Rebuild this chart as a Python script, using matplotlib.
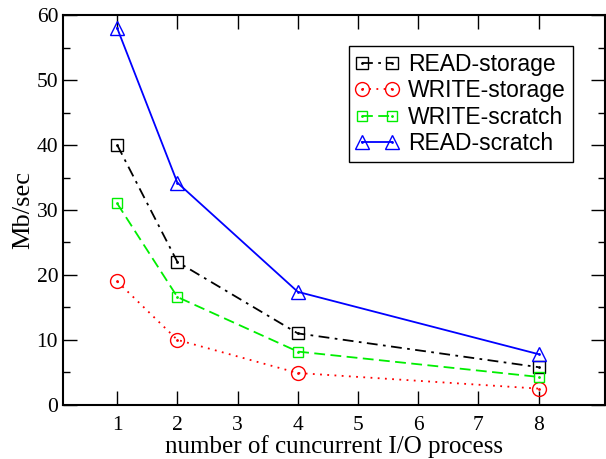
import matplotlib
matplotlib.use("Agg")
import matplotlib.pyplot as plt
from matplotlib.ticker import MultipleLocator
from matplotlib.legend_handler import HandlerTuple

# values
procs = [1, 2, 4, 8]
read_storage = [40, 22, 11, 5.8]
write_storage = [19, 10, 4.9, 2.5]
write_scratch = [31, 16.6, 8.2, 4.3]
read_scratch = [58, 34.2, 17.4, 7.8]
xticks = [1, 2, 3, 4, 5, 6, 7, 8]

plt.rcParams['font.family'] = ['Liberation Serif', 'DejaVu Serif']

fig = plt.figure(figsize=(6.06, 4.59), dpi=100)
ax = fig.add_axes([0.104, 0.118, 0.894, 0.849])

series = [
    (read_storage, 'READ-storage', 'black', (0, (6, 3, 1.5, 3)), 's', 8.5),
    (write_storage, 'WRITE-storage', 'red', (0, (1, 3)), 'o', 10),
    (write_scratch, 'WRITE-scratch', '#00ee00', (0, (6, 3)), 's', 7.5),
    (read_scratch, 'READ-scratch', 'blue', '-', '^', 9.5),
]

handles = []
for vals, name, col, ls, mk, ms in series:
    ln, = ax.plot(procs, vals, color=col, linestyle=ls, linewidth=1.3,
                  marker=mk, markersize=ms, markerfacecolor='none',
                  markeredgecolor=col, markeredgewidth=1.0)
    dot, = ax.plot(procs, vals, linestyle='none', marker='.', markersize=2,
                   color=col)
    handles.append((ln, dot))

leg = ax.legend(handles, [s[1] for s in series], loc='upper right',
                bbox_to_anchor=(0.962, 0.95), numpoints=2, handlelength=1.9,
                handletextpad=0.4, labelspacing=0.15, borderpad=0.3,
                fancybox=False, edgecolor='black', framealpha=1,
                prop={'family': 'Liberation Sans', 'size': 16.5},
                handler_map={tuple: HandlerTuple(ndivide=1)})
leg.get_frame().set_linewidth(1.0)

ax.set_xlim(0.1, 9.1)
ax.set_ylim(0, 60)
ax.set_xticks(xticks)
ax.yaxis.set_major_locator(MultipleLocator(10))
ax.yaxis.set_minor_locator(MultipleLocator(5))
ax.tick_params(which='both', direction='in', top=True, right=True,
               labelsize=15.5, width=1)
ax.tick_params(which='major', length=10)
ax.tick_params(which='minor', length=5)
ax.tick_params(axis='x', pad=8)
for s in ax.spines.values():
    s.set_linewidth(1.5)

ax.set_xlabel('number of cuncurrent I/O process', fontsize=18, labelpad=0)
ax.set_ylabel('Mb/sec', fontsize=19, labelpad=2)

fig.savefig('out.png', dpi=100)
